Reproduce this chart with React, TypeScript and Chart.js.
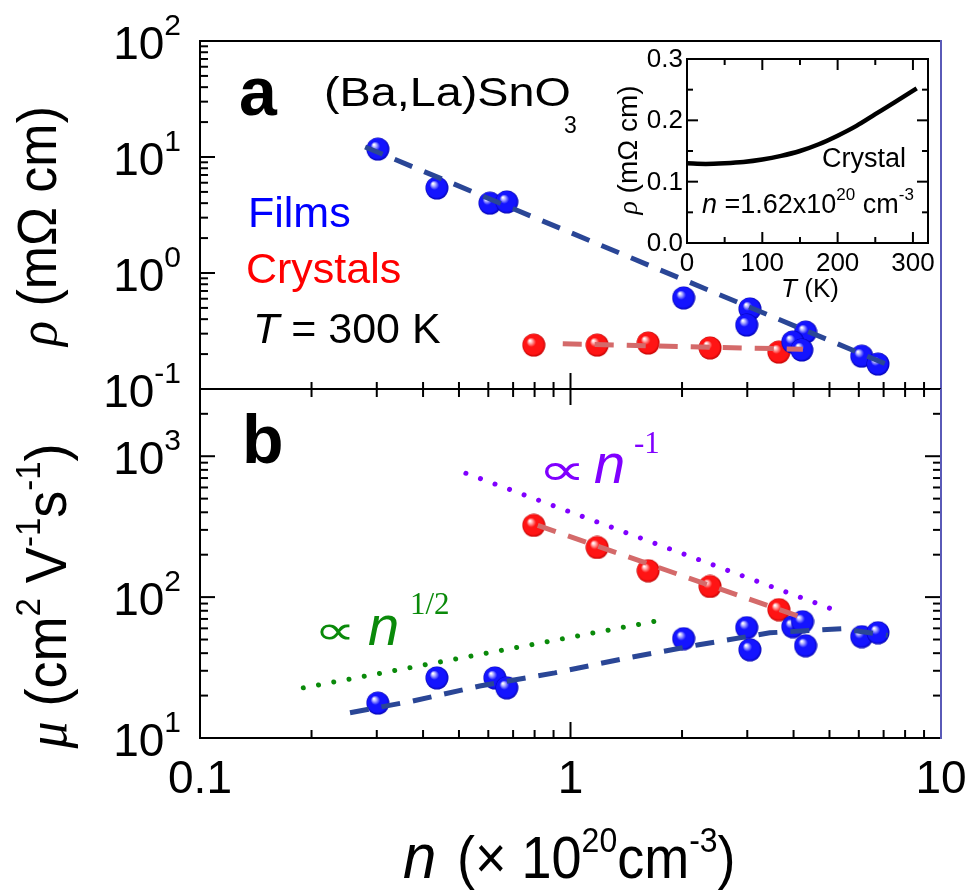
import React, { useEffect, useRef } from 'react';
import { Chart, registerables } from 'chart.js';
Chart.register(...registerables);

const W = 971, H = 893;
const SANS = '"Liberation Sans", Arial, "DejaVu Sans", sans-serif';
const SERIF = '"Liberation Serif", "Times New Roman", "DejaVu Serif", serif';
const SYM = '"DejaVu Sans", sans-serif';
const FRAME_BLUE = '#5a5ab8';

// ---- panel a : resistivity at 300 K ----
const filmNa = [0.302, 0.436, 0.606, 0.673, 2.02, 3.05, 2.99, 4.31, 3.98, 4.21, 6.11, 6.76];
const filmRho = [11.7, 5.4, 4.0, 4.1, 0.61, 0.49, 0.356, 0.31, 0.254, 0.217, 0.192, 0.164];
const crystalN = [0.796, 1.18, 1.62, 2.38, 3.65];
const crystalRho = [0.239, 0.239, 0.249, 0.226, 0.208];
const filmFitNa = [0.279, 7.14];
const filmFitRho = [12.2, 0.163];
const crystalFitNa = [0.953, 4.24];
const crystalFitRho = [0.245, 0.22];

// ---- panel b : mobility ----
const filmNb = [0.302, 0.436, 0.625, 0.673, 2.02, 2.99, 3.05, 3.98, 4.23, 4.31, 6.11, 6.76];
const filmMu = [17.7, 26.7, 26.7, 22.7, 50.7, 60.7, 42.3, 61.7, 66.9, 45.2, 52.4, 55.9];
const crystalMu = [323, 225, 154, 119, 81.5];
const filmFitNb = [0.254, 0.375, 0.569, 0.907, 1.43, 2.22, 3.45, 5.4, 7.19];
const filmFitMu = [15.1, 18.3, 23.4, 29.0, 37.1, 45.9, 55.8, 59.7, 53.5];
const crystalFitNb = [0.816, 4.16];
const crystalFitMu = [323, 72.6];
const guideInvN = [0.522, 5.23];
const guideInvMu = [757, 80];
const guideSqrtN = [0.19, 1.73];
const guideSqrtMu = [22.7, 68.1];

// ---- inset : rho(T) of crystal ----
const insetT = [0, 25, 50, 75, 100, 125, 150, 175, 200, 225, 250, 275, 305];
const insetRho = [0.13, 0.129, 0.13, 0.132, 0.136, 0.142, 0.15, 0.161, 0.175, 0.191, 0.21, 0.229, 0.252];

// axis ranges / tick labels
const xRange = [0.1, 10];
const rhoRange = [0.1, 100];
const muRange = [10, 3000];
const xTickLabels = ['0.1', '1', '10'];
const rhoExps = [-1, 0, 1, 2];
const muExps = [1, 2, 3];
const insetXTicks = [0, 100, 200, 300];
const insetYTicks = [0, 0.1, 0.2, 0.3];

type Run = { t: string; f: string; dy?: number; c?: string; dx?: number };

function drawRuns(ctx: CanvasRenderingContext2D, list: Run[], x: number, y: number, align: string = 'left', sx = 1, sy = 1, rot = 0) {
  ctx.save();
  ctx.translate(x, y);
  if (rot) ctx.rotate(rot);
  ctx.scale(sx, sy);
  ctx.textBaseline = 'alphabetic';
  ctx.textAlign = 'left';
  let total = 0;
  const widths = list.map(r => { ctx.font = r.f; const w = ctx.measureText(r.t).width + (r.dx || 0); total += w; return w; });
  let cx = align === 'right' ? -total : align === 'center' ? -total / 2 : 0;
  list.forEach((r, i) => {
    ctx.font = r.f;
    ctx.fillStyle = r.c || '#000';
    ctx.fillText(r.t, cx + (r.dx || 0), r.dy || 0);
    cx += widths[i];
  });
  ctx.restore();
}

// draw a glyph scaled so that its ink fills a box of w x h centred at (cx, cy)
function drawFit(ctx: CanvasRenderingContext2D, text: string, font: string, cx: number, cy: number, w: number, h: number, color: string) {
  ctx.save();
  ctx.font = font;
  ctx.textAlign = 'left';
  ctx.textBaseline = 'alphabetic';
  const m = ctx.measureText(text);
  const iw = (m.actualBoundingBoxLeft + m.actualBoundingBoxRight) || 1;
  const ih = (m.actualBoundingBoxAscent + m.actualBoundingBoxDescent) || 1;
  ctx.translate(cx, cy);
  ctx.scale(w / iw, h / ih);
  ctx.fillStyle = color;
  ctx.fillText(text, -(m.actualBoundingBoxRight - m.actualBoundingBoxLeft) / 2, (m.actualBoundingBoxAscent - m.actualBoundingBoxDescent) / 2);
  ctx.restore();
}

function seg(ctx: CanvasRenderingContext2D, x1: number, y1: number, x2: number, y2: number, color = '#000', w = 2) {
  ctx.strokeStyle = color;
  ctx.lineWidth = w;
  ctx.beginPath();
  ctx.moveTo(x1, y1);
  ctx.lineTo(x2, y2);
  ctx.stroke();
}

function logTicks(min: number, max: number) {
  const out: { v: number; major: boolean }[] = [];
  for (let d = Math.floor(Math.log10(min)); d <= Math.ceil(Math.log10(max)); d++) {
    for (let k = 1; k < 10; k++) {
      const v = k * Math.pow(10, d);
      if (v >= min * 0.999 && v <= max * 1.001) out.push({ v, major: k === 1 });
    }
  }
  return out;
}

function sphere(base: string, light: string, dark: string) {
  const s = 24;
  const c = document.createElement('canvas');
  c.width = s; c.height = s;
  const g = c.getContext('2d')!;
  const r = s / 2 - 0.5;
  const grad = g.createRadialGradient(s / 2 - 4, s / 2 - 4.5, 0.5, s / 2, s / 2, r);
  grad.addColorStop(0, '#ffffff');
  grad.addColorStop(0.13, light);
  grad.addColorStop(0.38, base);
  grad.addColorStop(0.85, base);
  grad.addColorStop(1, dark);
  g.fillStyle = grad;
  g.beginPath();
  g.arc(s / 2, s / 2, r, 0, Math.PI * 2);
  g.fill();
  return c;
}

const pts = (xs: number[], ys: number[]) => xs.map((x, i) => ({ x, y: ys[i] }));

const baseOpts = (padding: any, scales: any) => ({
  responsive: false,
  animation: false as const,
  devicePixelRatio: 1,
  events: [] as any[],
  layout: { padding },
  scales,
  plugins: { legend: { display: false }, tooltip: { enabled: false }, title: { display: false } },
});

const sup = (e: number) => (e < 0 ? '-' + Math.abs(e) : String(e));

function makeA(canvas: HTMLCanvasElement, blue: HTMLCanvasElement, red: HTMLCanvasElement) {
  const deco = {
    id: 'decoA',
    afterDraw(chart: any) {
      const ctx = chart.ctx as CanvasRenderingContext2D;
      const { left, right, top, bottom } = chart.chartArea;
      const xs = chart.scales.x, ys = chart.scales.y;
      ctx.save();
      for (const t of logTicks(rhoRange[0], rhoRange[1])) {
        const py = ys.getPixelForValue(t.v);
        seg(ctx, left, py, left + (t.major ? 15 : 8), py);
      }
      for (const t of logTicks(xRange[0], xRange[1])) {
        const px = xs.getPixelForValue(t.v);
        seg(ctx, px, bottom, px, bottom - (t.major ? 16 : 7));
      }
      seg(ctx, left - 1, top, right, top);
      seg(ctx, left, top, left, bottom);
      seg(ctx, left, bottom, right, bottom);
      seg(ctx, right, top - 1, right, bottom, FRAME_BLUE);
      for (const e of rhoExps) {
        const py = ys.getPixelForValue(Math.pow(10, e));
        drawRuns(ctx, [{ t: '10', f: `46px ${SANS}` }, { t: sup(e), f: `30px ${SANS}`, dy: -24 }], 181, py + 18, 'right');
      }
      // y title
      drawRuns(ctx, [{ t: 'ρ', f: `italic 52px ${SERIF}` }, { t: ' (mΩ cm)', f: `52px ${SANS}` }], 56, 226, 'center', 1, 1.05, -Math.PI / 2);
      // annotations
      drawRuns(ctx, [{ t: 'a', f: `bold 68px ${SANS}` }], 239, 115);
      drawRuns(ctx, [{ t: '(Ba,La)SnO', f: `41px ${SANS}` }], 324, 106, 'left', 1.14, 1);
      drawRuns(ctx, [{ t: '3', f: `23px ${SANS}` }], 564, 133);
      drawRuns(ctx, [{ t: 'Films', f: `43px ${SANS}`, c: '#0000ff' }], 248, 227);
      drawRuns(ctx, [{ t: 'Crystals', f: `43px ${SANS}`, c: '#ff0000' }], 246, 283);
      drawRuns(ctx, [{ t: 'T', f: `italic 43px ${SANS}` }, { t: ' = 300 K', f: `43px ${SANS}` }], 253, 343);
      ctx.restore();
    },
  };
  return new Chart(canvas, {
    type: 'scatter',
    data: {
      datasets: [
        { data: pts(filmFitNa, filmFitRho), showLine: true, borderColor: '#2a4696', borderWidth: 5, borderDash: [19, 13], pointRadius: 0, clip: false } as any,
        { data: pts(crystalFitNa, crystalFitRho), showLine: true, borderColor: '#d46a6a', borderWidth: 5, borderDash: [19, 13], pointRadius: 0, clip: false },
        { data: pts(filmNa, filmRho), pointStyle: blue, pointRadius: 12, clip: false },
        { data: pts(crystalN, crystalRho), pointStyle: red, pointRadius: 12, clip: false },
      ],
    },
    options: baseOpts({ left: 200, top: 41, right: W - 941, bottom: H - 389 }, {
      x: { type: 'logarithmic', min: xRange[0], max: xRange[1], display: false },
      y: { type: 'logarithmic', min: rhoRange[0], max: rhoRange[1], display: false },
    }) as any,
    plugins: [deco],
  });
}

function makeB(canvas: HTMLCanvasElement, blue: HTMLCanvasElement, red: HTMLCanvasElement) {
  const deco = {
    id: 'decoB',
    afterDraw(chart: any) {
      const ctx = chart.ctx as CanvasRenderingContext2D;
      const { left, right, top, bottom } = chart.chartArea;
      const xs = chart.scales.x, ys = chart.scales.y;
      ctx.save();
      for (const t of logTicks(muRange[0], muRange[1])) {
        const py = ys.getPixelForValue(t.v);
        seg(ctx, left, py, left + (t.major ? 15 : 8), py);
        seg(ctx, right, py, right - (t.major ? 16 : 8), py);
      }
      for (const t of logTicks(xRange[0], xRange[1])) {
        const px = xs.getPixelForValue(t.v);
        seg(ctx, px, top, px, top + (t.major ? 16 : 8));
        seg(ctx, px, bottom, px, bottom - (t.major ? 16 : 8));
      }
      seg(ctx, left, top, right, top);
      seg(ctx, left, top, left, bottom + 1);
      seg(ctx, left, bottom, right, bottom);
      seg(ctx, right, top, right, bottom + 1, FRAME_BLUE);
      for (const e of muExps) {
        const py = ys.getPixelForValue(Math.pow(10, e));
        drawRuns(ctx, [{ t: '10', f: `46px ${SANS}` }, { t: sup(e), f: `30px ${SANS}`, dy: -24 }], 181, py + 18, 'right');
      }
      xTickLabels.forEach(l => {
        const px = xs.getPixelForValue(parseFloat(l));
        drawRuns(ctx, [{ t: l, f: `46px ${SANS}` }], px, 793, 'center');
      });
      // x title
      drawRuns(ctx, [{ t: 'n', f: `italic 60px ${SANS}` }], 403, 878, 'left', 1, 1.05);
      drawRuns(ctx, [
        { t: '(× 10', f: `54px ${SANS}` },
        { t: '20', f: `32px ${SANS}`, dy: -24 },
        { t: 'cm', f: `54px ${SANS}` },
        { t: '-3', f: `32px ${SANS}`, dy: -24 },
        { t: ')', f: `54px ${SANS}` },
      ], 457, 878, 'left', 1, 1.1);
      // y title
      drawRuns(ctx, [
        { t: 'μ', f: `italic 54px ${SERIF}` },
        { t: ' (cm', f: `54px ${SANS}` },
        { t: '2', f: `33px ${SANS}`, dy: -25 },
        { t: ' V', f: `54px ${SANS}` },
        { t: '-1', f: `33px ${SANS}`, dy: -25 },
        { t: 's', f: `54px ${SANS}` },
        { t: '-1', f: `33px ${SANS}`, dy: -25 },
        { t: ')', f: `54px ${SANS}` },
      ], 66, 596, 'center', 1, 1.05, -Math.PI / 2);
      drawRuns(ctx, [{ t: 'b', f: `bold 68px ${SANS}` }], 242, 463);
      // guide labels
      const G = '#0a8a0a', P = '#8000ff';
      drawFit(ctx, '∝', `60px ${SYM}`, 335, 632, 30, 16, G);
      drawRuns(ctx, [{ t: 'n', f: `italic 56px ${SANS}`, c: G }], 368, 645);
      drawRuns(ctx, [{ t: '1/2', f: `31px ${SERIF}`, c: G }], 410, 614);
      drawFit(ctx, '∝', `60px ${SYM}`, 562, 471, 35, 18, P);
      drawRuns(ctx, [{ t: 'n', f: `italic 56px ${SANS}`, c: P }], 594, 483);
      drawRuns(ctx, [{ t: '-1', f: `31px ${SERIF}`, c: P }], 634, 453);
      ctx.restore();
    },
  };
  const dot = { showLine: true, borderWidth: 5, borderDash: [0.01, 15.5], borderCapStyle: 'round', pointRadius: 0, clip: false };
  return new Chart(canvas, {
    type: 'scatter',
    data: {
      datasets: [
        { data: pts(filmFitNb, filmFitMu), showLine: true, borderColor: '#2a4696', borderWidth: 5, borderDash: [19, 13], pointRadius: 0, clip: false } as any,
        { data: pts(crystalFitNb, crystalFitMu), showLine: true, borderColor: '#d46a6a', borderWidth: 5, borderDash: [19, 13], pointRadius: 0, clip: false },
        { ...dot, data: pts(guideInvN, guideInvMu), borderColor: '#8000ff' },
        { ...dot, data: pts(guideSqrtN, guideSqrtMu), borderColor: '#0a8a0a' },
        { data: pts(filmNb, filmMu), pointStyle: blue, pointRadius: 12, clip: false },
        { data: pts(crystalN, crystalMu), pointStyle: red, pointRadius: 12, clip: false },
      ],
    },
    options: baseOpts({ left: 200, top: 389, right: W - 941, bottom: H - 738 }, {
      x: { type: 'logarithmic', min: xRange[0], max: xRange[1], display: false },
      y: { type: 'logarithmic', min: muRange[0], max: muRange[1], display: false },
    }) as any,
    plugins: [deco],
  });
}

function makeInset(canvas: HTMLCanvasElement) {
  const deco = {
    id: 'decoI',
    afterDraw(chart: any) {
      const ctx = chart.ctx as CanvasRenderingContext2D;
      const { left, right, top, bottom } = chart.chartArea;
      const xs = chart.scales.x, ys = chart.scales.y;
      ctx.save();
      for (let T = 0; T <= 300; T += 50) {
        const px = xs.getPixelForValue(T);
        const L = T % 100 === 0 ? 11 : 6;
        seg(ctx, px, bottom, px, bottom - L);
        seg(ctx, px, top, px, top + L);
      }
      for (let k = 0; k <= 6; k++) {
        const py = ys.getPixelForValue(k * 0.05);
        const L = k % 2 === 0 ? 11 : 6;
        seg(ctx, left, py, left + L, py);
        seg(ctx, right, py, right - L, py);
      }
      seg(ctx, left - 1, top, right + 1, top);
      seg(ctx, left - 1, bottom, right + 1, bottom);
      seg(ctx, left, top, left, bottom);
      seg(ctx, right, top, right, bottom);
      insetYTicks.forEach(v => {
        const py = ys.getPixelForValue(v);
        drawRuns(ctx, [{ t: v.toFixed(1), f: `26px ${SANS}` }], 683, py + 8, 'right');
      });
      insetXTicks.forEach(v => {
        const px = xs.getPixelForValue(v);
        drawRuns(ctx, [{ t: String(v), f: `26px ${SANS}` }], px, 271, 'center');
      });
      drawRuns(ctx, [{ t: 'T', f: `italic 26px ${SANS}` }, { t: ' (K)', f: `26px ${SANS}` }], 810, 297, 'center');
      drawRuns(ctx, [{ t: 'ρ', f: `italic 28px ${SERIF}` }, { t: ' (mΩ cm)', f: `28px ${SANS}` }], 637, 150, 'center', 1, 1, -Math.PI / 2);
      drawRuns(ctx, [{ t: 'Crystal', f: `27px ${SANS}` }], 822, 167);
      drawRuns(ctx, [
        { t: 'n', f: `italic 27px ${SANS}` },
        { t: ' =1.62x10', f: `27px ${SANS}` },
        { t: '20', f: `17px ${SANS}`, dy: -13 },
        { t: ' cm', f: `27px ${SANS}` },
        { t: '-3', f: `17px ${SANS}`, dy: -13 },
      ], 702, 213);
      ctx.restore();
    },
  };
  return new Chart(canvas, {
    type: 'line',
    data: {
      datasets: [
        { data: pts(insetT, insetRho), borderColor: '#000', borderWidth: 4.5, pointRadius: 0, cubicInterpolationMode: 'monotone', clip: false } as any,
      ],
    },
    options: baseOpts({ left: 687, top: 59, right: W - 928, bottom: H - 243 }, {
      x: { type: 'linear', min: 0, max: 320, display: false },
      y: { type: 'linear', min: 0, max: 0.3, display: false },
    }) as any,
    plugins: [deco],
  });
}

export default function App() {
  const ra = useRef<HTMLCanvasElement>(null);
  const rb = useRef<HTMLCanvasElement>(null);
  const ri = useRef<HTMLCanvasElement>(null);
  useEffect(() => {
    const blue = sphere('#1414ff', '#b8b8ff', '#0000b0');
    const red = sphere('#ff1414', '#ffb8b8', '#c00000');
    const charts = [makeA(ra.current!, blue, red), makeB(rb.current!, blue, red), makeInset(ri.current!)];
    return () => charts.forEach(c => c.destroy());
  }, []);
  const cs: React.CSSProperties = { position: 'absolute', left: 0, top: 0, width: W, height: H };
  return (
    <div style={{ position: 'fixed', left: 0, top: 0, width: W, height: H, background: '#fff', overflow: 'hidden' }}>
      <canvas ref={ra} width={W} height={H} style={cs} />
      <canvas ref={rb} width={W} height={H} style={cs} />
      <canvas ref={ri} width={W} height={H} style={cs} />
    </div>
  );
}
